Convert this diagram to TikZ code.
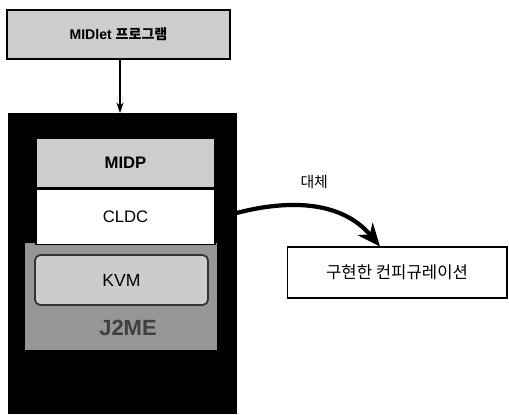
\documentclass[tikz,border=0pt]{standalone}
\usepackage{fontspec}
\setmainfont{Liberation Sans}
\newfontfamily\kr{Noto Sans CJK KR}
\usetikzlibrary{arrows.meta,positioning,calc}
\definecolor{NoiseGray}{RGB}{205,205,205}
\definecolor{DarkNoise}{RGB}{150,150,150}

\begin{document}
\begin{tikzpicture}[
  x=0.02cm, y=-0.02cm,
  layer/.style={rectangle, draw=black, line width=0.6pt, inner sep=0pt},
  arrow/.style={-{Stealth[length=6pt, width=4pt]}, line width=0.6pt},
  bigarrow/.style={-{Stealth[length=13pt, width=11pt, inset=4pt]}, line width=2.4pt}
]
\useasboundingbox (0,0) rectangle (509,414);
% program on top
\node[layer, fill=NoiseGray, minimum width=4.46cm, minimum height=0.98cm,
      font=\bfseries\fontsize{8}{9}\selectfont] (prog) at (118.5,34.5) {MIDlet {\kr 프로그램}};
% device stack
\node[rectangle, fill=black, draw=black, minimum width=4.56cm, minimum height=6cm,
      anchor=north] (dev) at (122,113) {};
\node[rectangle, fill=DarkNoise, minimum width=3.84cm, minimum height=2.14cm] (j2me) at (121,296.5) {};
\node[layer, fill=NoiseGray, minimum width=3.58cm, minimum height=1.0cm,
      font=\bfseries\fontsize{9.5}{11}\selectfont] (midp) at (125.5,163) {MIDP};
\node[layer, fill=white, minimum width=3.58cm, minimum height=1.1cm,
      font=\fontsize{9.5}{11}\selectfont, below=0pt of midp] (cldc) {CLDC};
\node[layer, rounded corners=3pt, draw=black!80, line width=1pt, fill=gray!40,
      minimum width=3.46cm, minimum height=1.0cm,
      font=\fontsize{10}{12}\selectfont] (kvm) at (121.5,280) {KVM};
\node[font=\bfseries\fontsize{12.5}{14}\selectfont, text=black!75] (j2mel) at (128,328) {J2ME};
% replacement target
\node[layer, fill=white, minimum width=4.4cm, minimum height=1.02cm,
      font=\kr\fontsize{9.5}{11}\selectfont] (impl) at (397,272.5) {구현한 컨피규레이션};
\coordinate (drop) at ($(prog.south)+(1.5,0)$);
\draw[arrow] (drop) -- (drop |- dev.north);
\draw[bigarrow] ($(dev.east |- cldc.east)+(-2,-3)$) to[out=15, in=130]
  node[above=6pt, pos=0.5, font=\kr\fontsize{8.5}{10}\selectfont] (repl) {대체}
  ($(impl.north)+(-17,0)$);
\end{tikzpicture}
\end{document}
